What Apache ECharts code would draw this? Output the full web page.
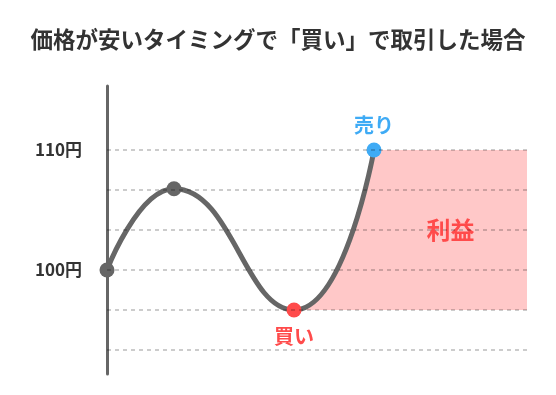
<!DOCTYPE html>
<html>
<head>
<meta charset="utf-8">
<script src="https://cdn.jsdelivr.net/npm/echarts@6/dist/echarts.min.js"></script>
<style>html,body{margin:0;padding:0;background:#fff}#c{width:556px;height:395px}</style>
</head>
<body>
<div id="c"></div>
<script>
// Data (x: time, y: price in grid units; each grid step ≈ 3.33円)
const titleText = '価格が安いタイミングで「買い」で取引した場合';
const pointX = [0, 67, 187, 267];
const pointY = [2, 4.03, 1, 5];
const pointColors = ['#666666', '#666666', '#ff4b4b', '#3fabf5'];
const pointLabels = ['', '', '買い', '売り'];
const gridValues = [0, 1, 2, 3, 4, 5];
const yTickValues = [2, 5];
const yTickLabels = ['100円', '110円'];
const buyIndex = 2, sellIndex = 3;
const xMin = 0, xMax = 420;
const yMin = -0.6, yMax = 6.6;
const profitLabel = '利益';

const font = '"Noto Sans CJK JP", "Noto Sans", sans-serif';
const curve = pointX.map((x, i) => ({
  value: [x, pointY[i]],
  itemStyle: { color: pointColors[i] },
  label: pointLabels[i] ? {
    show: true,
    formatter: pointLabels[i],
    position: i === sellIndex ? 'top' : 'bottom',
    distance: i === sellIndex ? 7 : 9,
    color: pointColors[i],
    fontSize: 20, fontWeight: 'bold', fontFamily: font
  } : { show: false }
}));

const chart = echarts.init(document.getElementById('c'), null, { renderer: 'canvas' });
const gridTop = 86, gridBottom = 21, gridLeft = 107, gridRight = 29;
const plotW = 556 - gridLeft - gridRight;
const buyLeft = gridLeft + (pointX[buyIndex] - xMin) / (xMax - xMin) * plotW;

chart.setOption({
  animation: false,
  backgroundColor: '#fff',
  title: {
    text: titleText, left: 'center', top: 28, padding: 0,
    textStyle: { fontSize: 22.5, fontWeight: 'bold', color: '#333', fontFamily: font }
  },
  grid: [
    { left: gridLeft, right: gridRight, top: gridTop, bottom: gridBottom },
    { left: buyLeft, right: gridRight, top: gridTop, bottom: gridBottom }
  ],
  xAxis: [
    { type: 'value', gridIndex: 0, min: xMin, max: xMax, show: false },
    { type: 'value', gridIndex: 1, min: pointX[buyIndex], max: xMax, show: false }
  ],
  yAxis: [
    {
      type: 'value', gridIndex: 0, min: yMin, max: yMax,
      axisLine: { show: true, lineStyle: { color: '#666', width: 3 } },
      axisTick: { show: false },
      splitLine: { show: false },
      axisLabel: {
        customValues: yTickValues,
        formatter: v => yTickLabels[yTickValues.indexOf(v)] || '',
        margin: 25, fontSize: 17, fontWeight: 'bold', color: '#333', fontFamily: font
      }
    },
    { type: 'value', gridIndex: 1, min: yMin, max: yMax, show: false }
  ],
  series: [
    {
      type: 'line', xAxisIndex: 1, yAxisIndex: 1, z: 1,
      data: pointX.map((x, i) => [x, pointY[i]]),
      smooth: true, symbol: 'none',
      lineStyle: { width: 0 },
      areaStyle: { color: '#ffc8c8', opacity: 1, origin: pointY[buyIndex] },
      markArea: {
        silent: true,
        itemStyle: { color: '#ffc8c8' },
        label: { show: true, position: 'inside', color: '#ff4b4b', fontSize: 24, fontWeight: 'bold', fontFamily: font },
        data: [[{ name: profitLabel, coord: [pointX[sellIndex], pointY[buyIndex]] }, { coord: [xMax, pointY[sellIndex]] }]]
      }
    },
    {
      type: 'line', xAxisIndex: 0, yAxisIndex: 0, z: 2,
      data: [],
      markLine: {
        silent: true, symbol: 'none', label: { show: false },
        lineStyle: { color: 'rgba(0,0,0,0.2)', width: 2, type: [4, 4] },
        data: gridValues.map(v => ({ yAxis: v }))
      }
    },
    {
      type: 'line', xAxisIndex: 0, yAxisIndex: 0, z: 3,
      data: curve, smooth: true,
      symbol: 'circle', symbolSize: 15, showAllSymbol: true,
      lineStyle: { color: '#666', width: 5 },
      itemStyle: { borderWidth: 0 }
    }
  ]
});
</script>
</body>
</html>
